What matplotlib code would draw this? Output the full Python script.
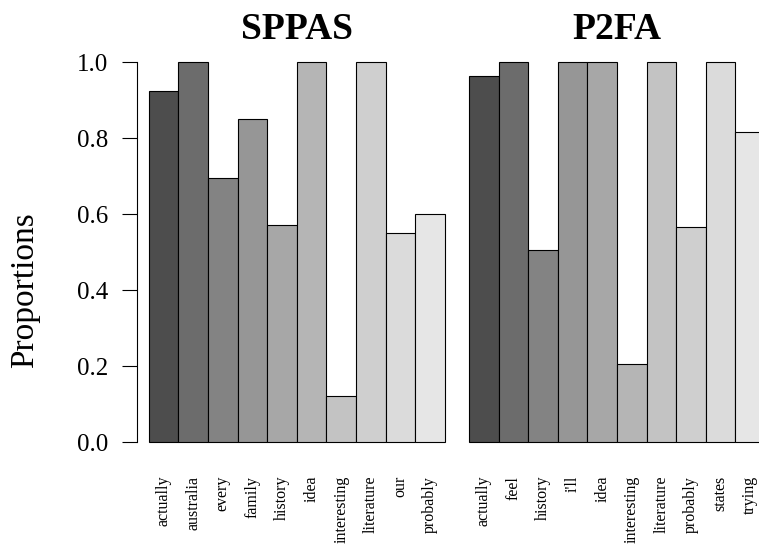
import numpy as np
import matplotlib
matplotlib.use("Agg")
import matplotlib.pyplot as plt

plt.rcParams["font.family"] = ["Liberation Serif", "DejaVu Serif"]

sppas_words = ["actually", "australia", "every", "family", "history",
               "idea", "interesting", "literature", "our", "probably"]
sppas_props = [0.925, 1.0, 0.695, 0.85, 0.57, 1.0, 0.12, 1.0, 0.55, 0.60]

p2fa_words = ["actually", "feel", "history", "i'll", "idea",
              "interesting", "literature", "probably", "states", "trying"]
p2fa_props = [0.963, 1.0, 0.505, 1.0, 1.0, 0.205, 1.0, 0.565, 1.0, 0.815]

yticks = [0.0, 0.2, 0.4, 0.6, 0.8, 1.0]


def grays(n, start=0.3, end=0.9, gamma=2.2):
    # same ramp as R's gray.colors()
    lv = np.linspace(start ** gamma, end ** gamma, n) ** (1 / gamma)
    return [(v, v, v) for v in lv]


fig = plt.figure(figsize=(7.59, 5.45), dpi=100)
ax1 = fig.add_axes([0.1805, 0.1611, 0.4212, 0.753])
ax2 = fig.add_axes([0.6024, 0.1611, 0.4212, 0.753])

for ax, words, props, title in [(ax1, sppas_words, sppas_props, "SPPAS"),
                                (ax2, p2fa_words, p2fa_props, "P2FA")]:
    x = np.arange(len(words)) + 0.5
    ax.bar(x, props, width=1.0, color=grays(len(words)),
           edgecolor="black", linewidth=0.8)
    ax.set_xlim(-0.4, 10.4)
    ax.set_ylim(-0.04, 1.04)
    ax.set_xticks(x)
    ax.set_xticklabels(words, rotation=90, fontsize=11.5)
    ax.tick_params(axis="x", length=0, pad=13.5)
    ax.set_title(title, fontsize=27, fontweight="bold", pad=5)
    for s in ["top", "right", "bottom", "left"]:
        ax.spines[s].set_visible(False)
    ax.patch.set_visible(False)

ax1.spines["left"].set_visible(True)
ax1.spines["left"].set_bounds(0, 1)
ax1.spines["left"].set_linewidth(0.8)
ax1.set_yticks(yticks)
ax1.set_yticklabels([f"{v:.1f}" for v in yticks], fontsize=18)
ax1.tick_params(axis="y", length=10.8, width=0.8, pad=10)

ax2.set_yticks([])

fig.text(25 / 759, 1 - 290 / 545, "Proportions", rotation=90,
         ha="center", va="center", fontsize=24)

fig.savefig("out.png", dpi=100)
